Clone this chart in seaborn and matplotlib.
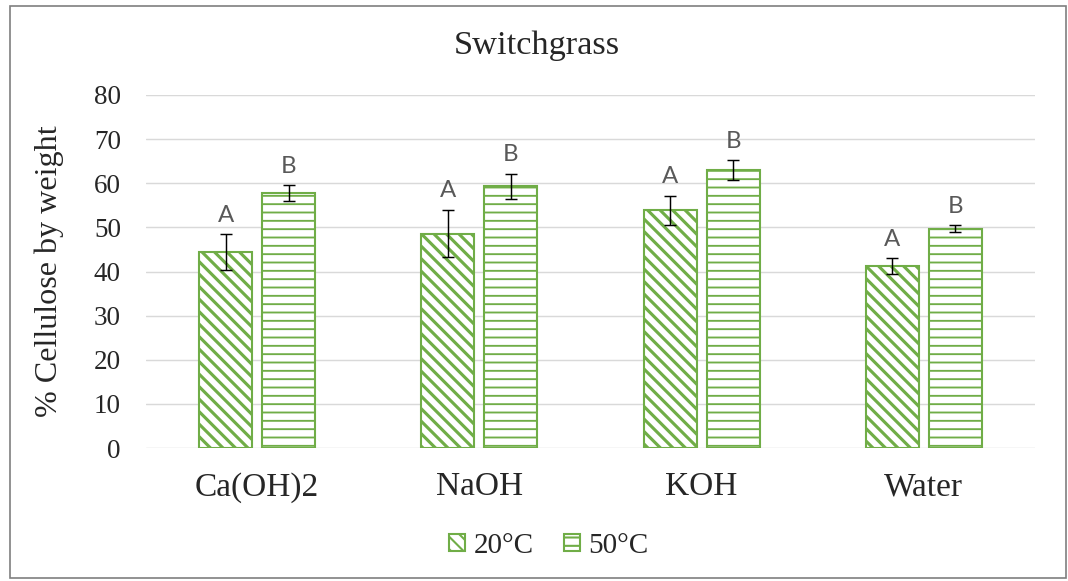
import matplotlib
matplotlib.use('Agg')
import matplotlib.pyplot as plt
import seaborn as sns
import pandas as pd
from matplotlib.patches import Patch, Rectangle
from matplotlib.container import BarContainer

# ---------------- data ----------------
categories = ['Ca(OH)2', 'NaOH', 'KOH', 'Water']
temps = ['20°C', '50°C']
mean_20 = [44.4, 48.6, 53.9, 41.2]
mean_50 = [57.8, 59.3, 63.0, 49.7]
err_20 = [4.0, 5.4, 3.3, 1.8]
err_50 = [1.8, 2.8, 2.2, 0.8]
letters_20 = ['A', 'A', 'A', 'A']
letters_50 = ['B', 'B', 'B', 'B']
yticks = [0, 10, 20, 30, 40, 50, 60, 70, 80]
title = 'Switchgrass'
ylabel = '% Cellulose by weight'

GREEN = '#70AD47'
HATCHES = ['\\' * 4, '---']
HATCH_LW = [1.5, 0.9]

df = pd.DataFrame({
    'Treatment': categories * 2,
    'Temperature': [temps[0]] * 4 + [temps[1]] * 4,
    'Cellulose': mean_20 + mean_50,
})

sns.set_style('white')
plt.rcParams['font.family'] = ['Liberation Serif', 'DejaVu Serif']

DPI = 150
fig = plt.figure(figsize=(1068 / DPI, 581 / DPI), dpi=DPI)
ax = fig.add_axes([146 / 1068, 1 - 448 / 581, (1035 - 146) / 1068, (448 - 95) / 581])

sns.barplot(data=df, x='Treatment', y='Cellulose', hue='Temperature',
            order=categories, hue_order=temps, palette=['white', 'white'],
            saturation=1, edgecolor=GREEN, linewidth=1.0, width=0.568, gap=0.16,
            errorbar=None, legend=False, ax=ax, zorder=2)

means = [mean_20, mean_50]
errs = [err_20, err_50]
letters = [letters_20, letters_50]
bar_containers = [c for c in ax.containers if isinstance(c, BarContainer)]
for i, cont in enumerate(bar_containers):
    xs = []
    for b in cont:
        b.set_hatch(HATCHES[i])
        try:
            b.set_hatch_linewidth(HATCH_LW[i])
        except AttributeError:
            pass
        xs.append(b.get_x() + b.get_width() / 2)
    ax.errorbar(xs, means[i], yerr=errs[i], fmt='none', ecolor='black',
                elinewidth=0.7, capsize=3.1, capthick=0.7, zorder=3)
    for x, m, e, t in zip(xs, means[i], errs[i], letters[i]):
        ax.annotate(t, (x, m + e), xytext=(0, 6), textcoords='offset points',
                    ha='center', va='baseline', fontsize=11.5, color='#595959',
                    family=['Lato', 'DejaVu Sans'])

ax.set_ylim(0, 80)
ax.set_xlim(-0.5, 3.5)
ax.set_yticks(yticks)
ax.set_yticklabels([str(v) for v in yticks])
ax.grid(axis='y', color='#d9d9d9', linewidth=0.7, zorder=0)
ax.set_axisbelow(True)
for s in ax.spines.values():
    s.set_visible(False)
ax.tick_params(axis='y', length=0, pad=12, labelsize=13)
ax.tick_params(axis='x', length=0, pad=11.5, labelsize=16)
ax.set_xlabel('')
ax.set_ylabel(ylabel, fontsize=15.4)
ax.yaxis.set_label_coords(-0.092, 0.5)

fig.text(0.503, 1 - 46 / 581, title, ha='center', va='center', fontsize=16.5)

handles = []
for i, t in enumerate(temps):
    p = Patch(facecolor='white', edgecolor=GREEN, hatch=HATCHES[i], linewidth=1.0, label=t)
    handles.append(p)
fig.legend(handles=handles, loc='center', bbox_to_anchor=(549 / 1068, 1 - 546 / 581),
           ncol=2, frameon=False, fontsize=14, handlelength=0.55, handleheight=0.55,
           columnspacing=1.0, handletextpad=0.3)

fig.add_artist(Rectangle((10 / 1068, 3 / 581), (1066 - 10) / 1068, (575 - 6 + 3) / 581,
                         transform=fig.transFigure, fill=False, edgecolor='#7f7f7f',
                         linewidth=0.8))

fig.savefig('out.png', dpi=DPI, facecolor='white')
